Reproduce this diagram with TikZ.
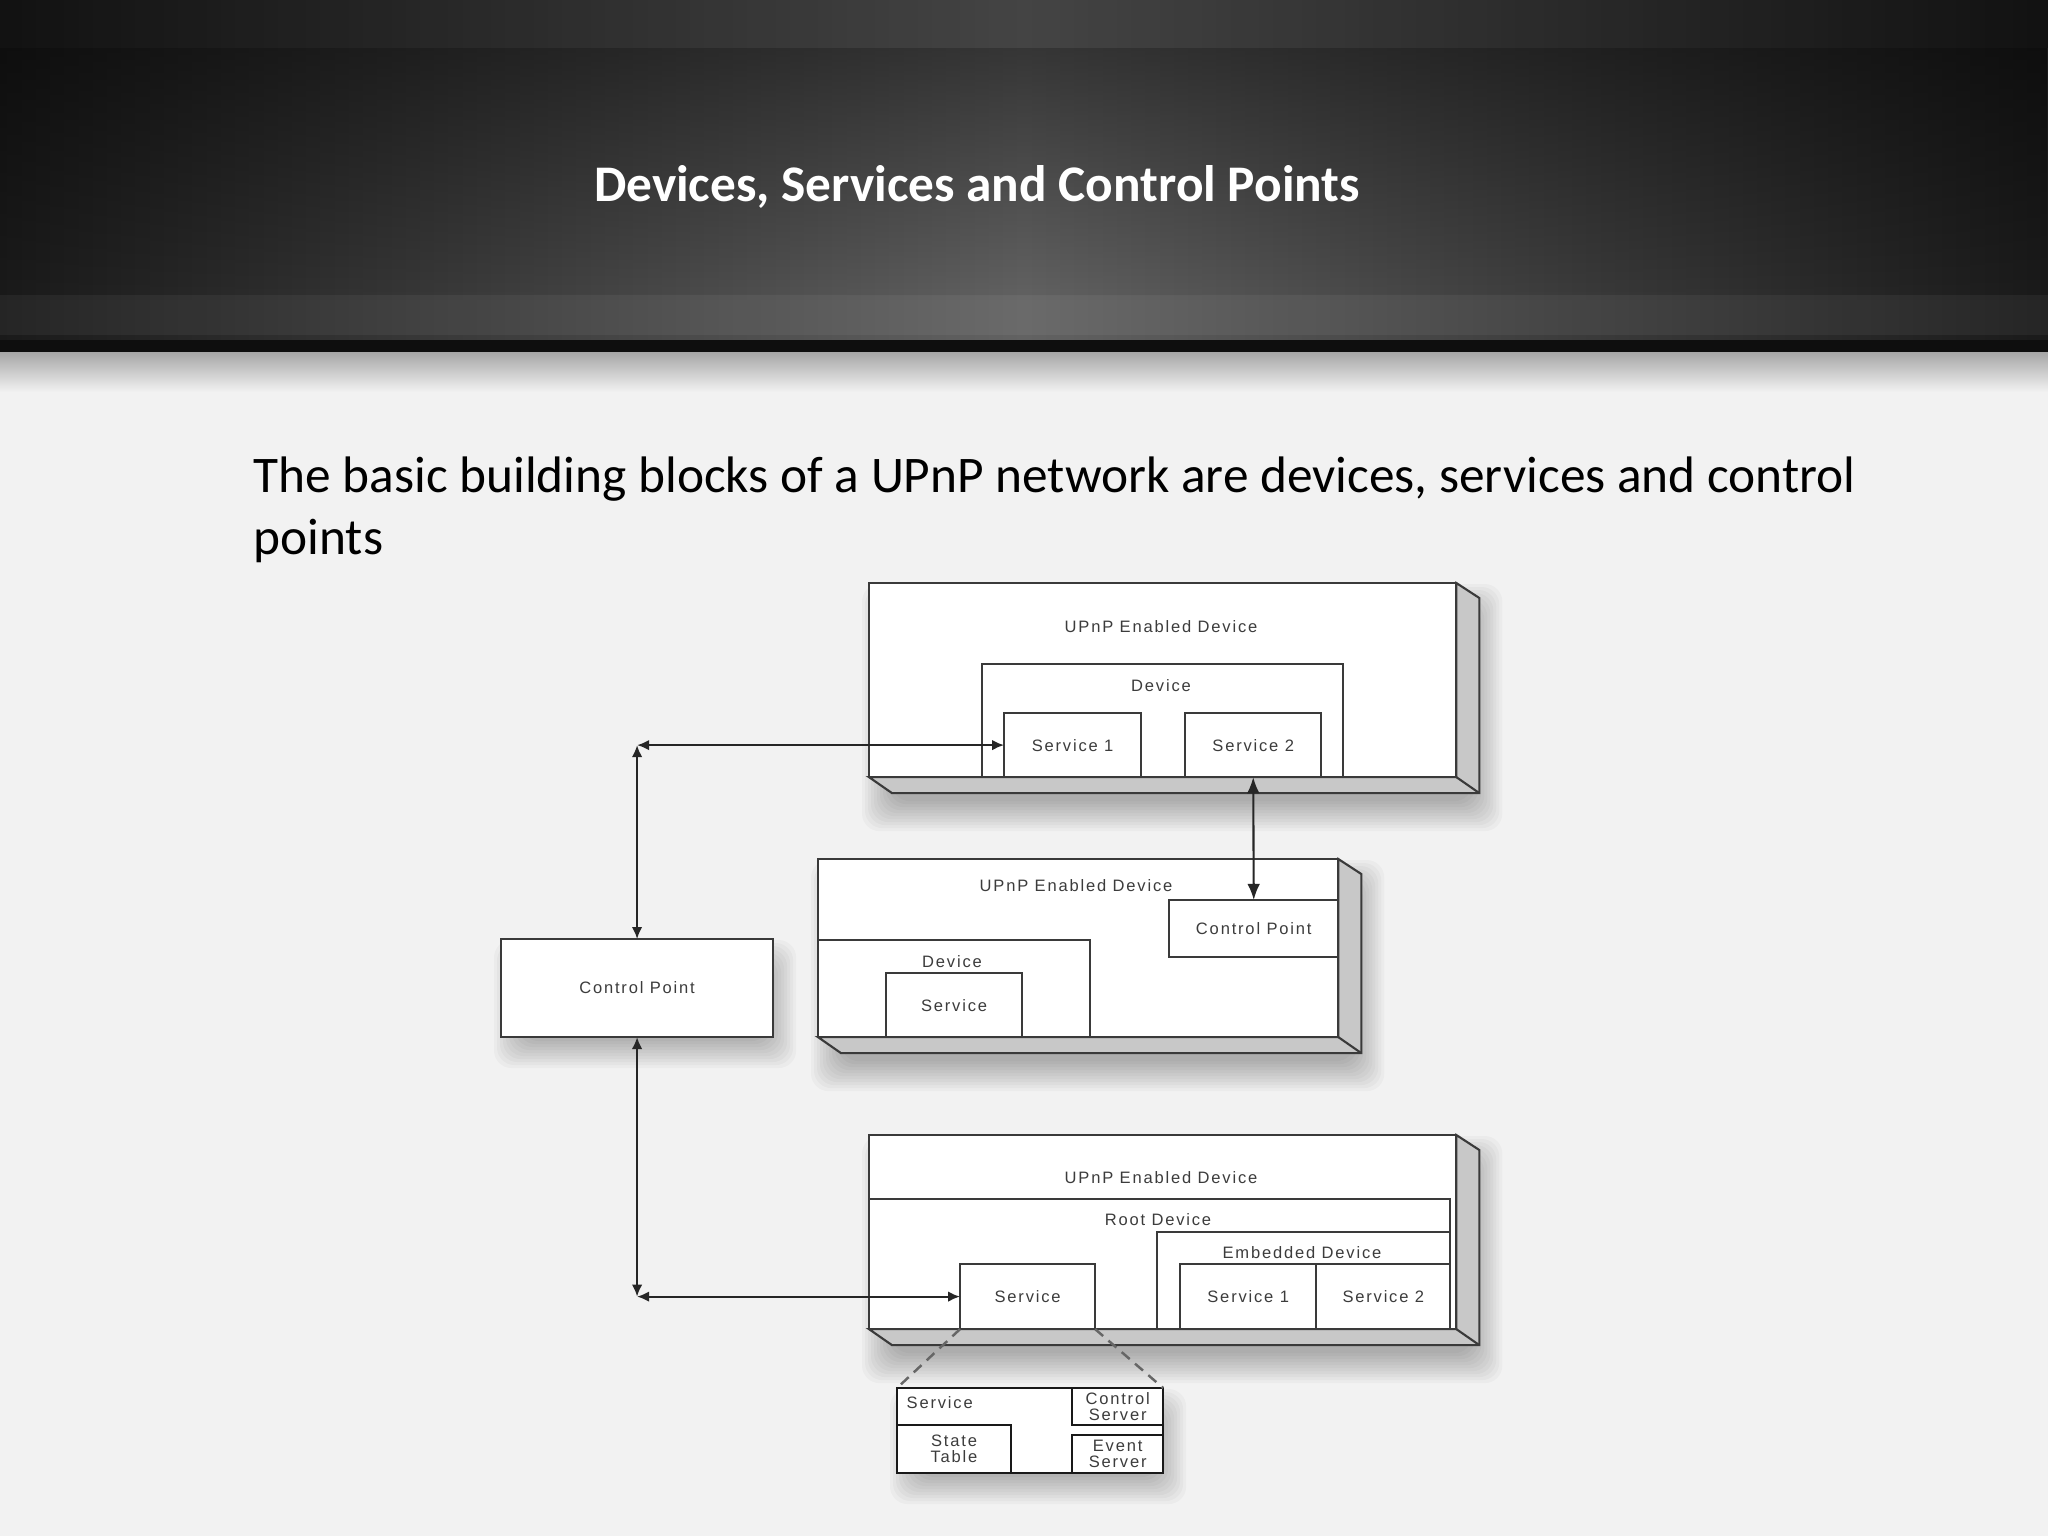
\documentclass[tikz,border=0pt]{standalone}
\usepackage{fontspec}
\setmainfont{Carlito}
\newfontfamily\diafont[LetterSpace=11]{Liberation Sans}
\usetikzlibrary{positioning,calc,arrows.meta,backgrounds,fadings}

\definecolor{slidebg}{HTML}{F2F2F2}
\definecolor{hdrdark}{HTML}{1A1A1A}
\definecolor{hdrmid}{HTML}{626262}
\definecolor{hdredge}{HTML}{0E0E0E}
\definecolor{edgegray}{HTML}{3A3A3A}
\definecolor{sidegray}{HTML}{C8C8C8}
\definecolor{lblgray}{HTML}{3C3C3C}

\tikzset{
  box/.style={draw=edgegray, line width=0.6pt, fill=white, inner sep=0pt, outer sep=0pt,
    anchor=north west, align=center, text=lblgray, font=\diafont\fontsize{4.7}{4.6}\selectfont},
  sz/.style 2 args={minimum width=#1cm, minimum height=#2cm},
  lbl/.style={inner sep=0pt, text=lblgray, font=\diafont\fontsize{4.7}{4.6}\selectfont},
  side/.style={draw=edgegray, line width=0.6pt, fill=sidegray, line join=miter},
  link/.style={draw=black!85, line width=0.6pt,
    {Latex[length=3.4pt,width=3pt]}-{Latex[length=3.4pt,width=3pt]}},
  biglink/.style={draw=black!85, line width=0.6pt,
    {Latex[length=4.6pt,width=3.6pt]}-{Latex[length=4.6pt,width=3.6pt]}},
  detailbox/.style={box, draw=black!90, line width=0.75pt},
  zoomline/.style={draw=gray!80!black, line width=0.7pt, dash pattern=on 3pt off 2pt},
  shadowlayer/.style={fill=black, opacity=0.028, rounded corners=5pt},
  title/.style={inner sep=0pt, text=white, font=\bfseries\fontsize{14.6}{17}\selectfont},
  intro/.style={inner sep=0pt, align=left, font=\fontsize{14.6}{17.6}\selectfont},
}

\begin{document}
\begin{tikzpicture}[x=0.01cm,y=-0.01cm]
  \useasboundingbox (0,0) rectangle (2048,1536);

  % heading
  \node[title] (ttl) at (977,187) {Devices, Services and Control Points};
  \node[intro, anchor=north west] (txt) at (253,456)
    {The basic building blocks of a UPnP network are devices, services and control\\points};

  % upper device
  \node[box, sz={5.87}{1.94}] (topdev) at (869,583) {};
  \node[box, sz={3.61}{1.13}, above right=0cm and 1.13cm of topdev.south west] (topdevice) {};
  \node[box, sz={1.37}{0.64}, above right=0cm and 0.22cm of topdevice.south west] (topsvc1) {Service 1};
  \node[box, sz={1.36}{0.64}, above left=0cm and 0.22cm of topdevice.south east] (topsvc2) {Service 2};
  \node[lbl] (toplbl) at (1161,627) {UPnP Enabled Device};
  \node[lbl] (topdevlbl) at (1161,686) {Device};

  % middle device
  \node[box, sz={5.20}{1.78}] (middev) at (818,859) {};
  \node[box, sz={1.69}{0.57}, below left=0.41cm and 0cm of middev.north east] (midcp) {Control Point};
  \node[box, sz={2.72}{0.97}, above right=0cm and 0cm of middev.south west] (middevice) {};
  \node[box, sz={1.36}{0.64}, above right=0cm and 0.68cm of middevice.south west] (midsvc) {Service};
  \node[lbl] (midlbl) at (1076,886) {UPnP Enabled Device};
  \node[lbl] (middevlbl) at (952,962) {Device};

  % lower device
  \node[box, sz={5.87}{1.94}] (botdev) at (869,1135) {};
  \node[box, sz={5.81}{1.30}, above right=0cm and 0cm of botdev.south west] (botroot) {};
  \node[box, sz={2.93}{0.97}, above left=0cm and 0cm of botroot.south east] (botemb) {};
  \node[box, sz={1.35}{0.65}, above right=0cm and 0.91cm of botroot.south west] (botsvc) {Service};
  \node[box, sz={1.36}{0.65}, above right=0cm and 0.23cm of botemb.south west] (botsvc1) {Service 1};
  \node[box, sz={1.34}{0.65}, above left=0cm and 0cm of botemb.south east] (botsvc2) {Service 2};
  \node[lbl] (botlbl) at (1161,1178) {UPnP Enabled Device};
  \node[lbl] (rootlbl) at (1158,1220) {Root Device};
  \node[lbl] (emblbl) at (1302,1253) {Embedded Device};

  % 3d sides
  \foreach \f in {topdev,middev,botdev}{
    \filldraw[side] (\f.north east) -- ++(23,15) -- ($(\f.south east)+(23,16)$)
      -- ($(\f.south west)+(23,16)$) -- (\f.south west) -- (\f.south east) -- cycle;
    \draw[side] (\f.south east) -- ++(23,16);
  }

  % control point
  \node[box, sz={2.72}{0.98}] (cp) at (501,939) {Control Point};

  % service detail
  \node[detailbox, sz={2.66}{0.85}] (zoombox) at (897,1388) {};
  \node[detailbox, sz={1.14}{0.48}, anchor=south west] (stbl) at (zoombox.south west) {State\\Table};
  \node[detailbox, sz={0.91}{0.37}, anchor=north east] (ctrlsrv) at (zoombox.north east) {Control\\Server};
  \node[detailbox, sz={0.91}{0.38}, anchor=south east] (evtsrv) at (zoombox.south east) {Event\\Server};
  \node[lbl, anchor=west] (zoomlbl) at (906,1403) {Service};
  \draw[zoomline] (botsvc.south west) -- (zoombox.north west);
  \draw[zoomline] (botsvc.south east) -- (zoombox.north east);

  % connectors
  \coordinate (upcorner) at (cp.north |- topsvc1.west);
  \coordinate (lowcorner) at (cp.south |- botsvc.west);
  \draw[link] (upcorner) -- (topsvc1.west);
  \draw[link] (upcorner) -- (cp.north);
  \draw[link] (lowcorner) -- (botsvc.west);
  \draw[link] (lowcorner) -- (cp.south);
  \draw[biglink] (topsvc2.south) -- (midcp.north);

  \begin{scope}[on background layer]
    \fill[slidebg] (0,0) rectangle (2048,1536);
    \shade[left color=hdrdark, right color=hdrdark, middle color=hdrmid] (0,0) rectangle (2048,345);
    \fill[black, opacity=0.45, path fading=south] (0,48) rectangle (2048,300);
    \fill[black, opacity=0.3] (0,0) rectangle (2048,48);
    \fill[white, opacity=0.05] (0,295) rectangle (2048,335);
    \fill[hdredge] (0,340) rectangle (2048,352);
    \shade[top color=gray!70, bottom color=slidebg] (0,352) rectangle (2048,392);
    % soft shadows
    \foreach \f/\d in {topdev/23, middev/23, botdev/23, cp/0, zoombox/0}
      \foreach \s in {-15,-12,...,15}
        \fill[shadowlayer] ($(\f.north west)+(8-\s,16-\s)$)
          rectangle ($(\f.south east)+(8+\d+\s,16+\d+\s)$);
  \end{scope}
\end{tikzpicture}
\end{document}
